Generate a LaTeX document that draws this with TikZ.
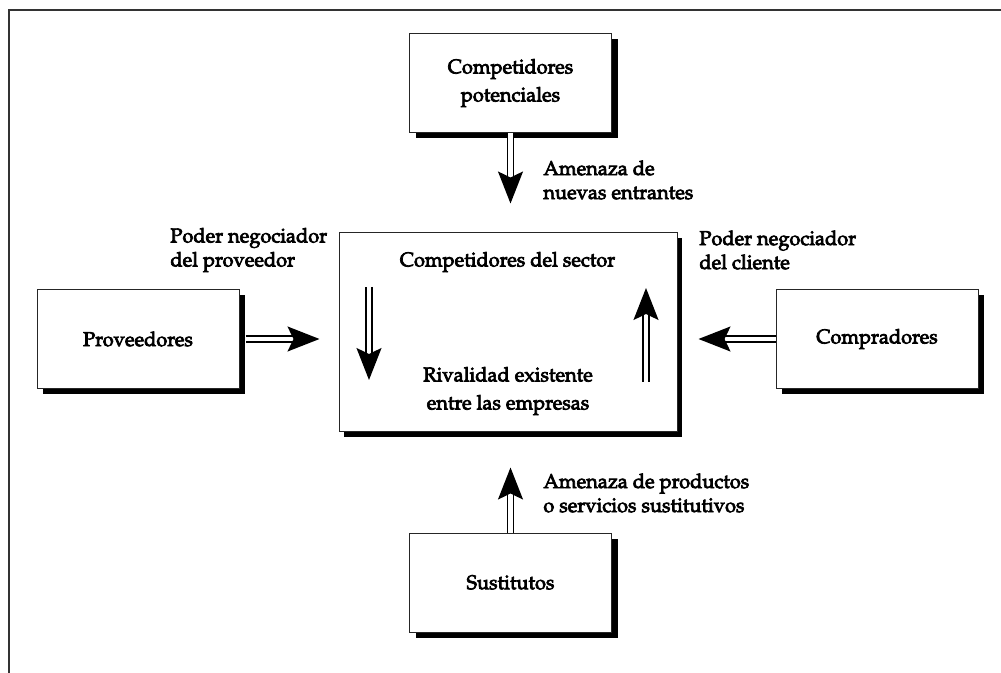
\documentclass[tikz,border=0pt]{standalone}
\usepackage[T1]{fontenc}
\usepackage{mathpazo}
\usepackage{tikz}
\usetikzlibrary{arrows.meta,calc,shadows}
\newcommand{\heavy}[1]{\special{pdf:literal direct 2 Tr 0.35 w}#1\special{pdf:literal direct 0 Tr}}

\begin{document}
\begin{tikzpicture}[x=0.5pt, y=-0.5pt, font=\fontsize{10pt}{14pt}\selectfont,
  box/.style={draw=black!85, line width=0.5pt, fill=white, minimum width=#1, minimum height=49.5pt, align=center, inner sep=2pt},
  box/.default=101pt,
  shadowed/.style={drop shadow={shadow xshift=#1, shadow yshift=-#1, fill=black, opacity=1}},
  shadowed/.default=3pt,
  lbl/.style={align=left, inner sep=0pt, anchor=west, font=\fontsize{10pt}{12pt}\selectfont},
  force/.style={double=white, double distance=2.4pt, line width=0.7pt, -{Stealth[length=16pt, width=12.5pt, inset=3pt]}}]
  \useasboundingbox (0,0) rectangle (1001,673);
  % frame
  \coordinate (ftl) at (9,10);
  \draw[line width=0.8pt, black!80] (9,673) -- (ftl) -- (1001,10);
  % boxes
  \node[box, shadowed] (pot) at (510.5,83) {\heavy{Competidores}\\\heavy{potenciales}};
  \node[box, shadowed] (prov) at (138,339) {\heavy{Proveedores}};
  \node[box, shadowed] (comp) at (877,339) {\heavy{Compradores}};
  \node[box, shadowed] (sust) at (510.5,582.5) {\heavy{Sustitutos}};
  \node[box=169pt, minimum height=99.5pt, shadowed=2.5pt] (sec) at (508,332.5) {};
  \node (secname) at (507.5,262) {\heavy{Competidores del sector}};
  \node[align=center] (riv) at (508,391) {\heavy{Rivalidad existente}\\\heavy{entre las empresas}};
  % labels
  \node[lbl] (ent) at (543,180) {\heavy{Amenaza de}\\\heavy{nuevas entrantes}};
  \node[lbl] (pprov) at (170,250) {\heavy{Poder negociador}\\\heavy{del proveedor}};
  \node[lbl] (pcli) at (699,250) {\heavy{Poder negociador}\\\heavy{del cliente}};
  \node[lbl] (subst) at (543,493) {\heavy{Amenaza de productos}\\\heavy{o servicios sustitutivos}};
  % rivalry arrows
  \coordinate (dtop) at (369,287); \coordinate (dbot) at (369,380);
  \coordinate (utop) at (646,288); \coordinate (ubot) at (646,382);
  \draw[force] (dtop) -- (dbot);
  \draw[force] (ubot) -- (utop);
  % edges
  \draw[force, shorten >=14.5pt] (pot.south) -- (pot.south |- sec.north);
  \draw[force, shorten <=3pt, shorten >=9.5pt] (prov.east) -- (prov.east -| sec.west);
  \draw[force, shorten >=10.5pt] (comp.west) -- (comp.west -| sec.east);
  \draw[force, shorten >=17.5pt] (sust.north) -- (sust.north |- sec.south);
\end{tikzpicture}
\end{document}
